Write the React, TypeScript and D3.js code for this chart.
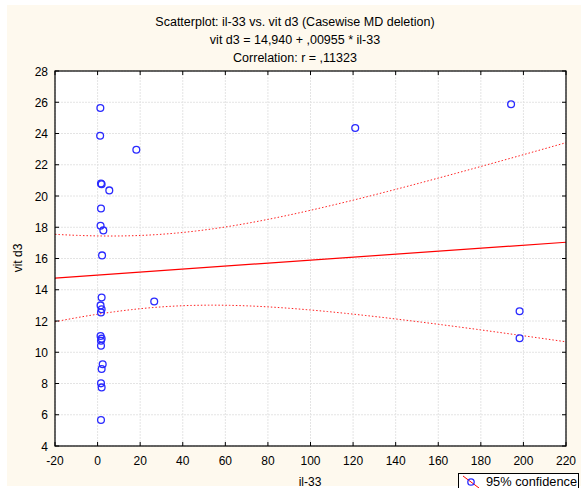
import React from "react";
import * as d3 from "d3";

const titleLines = [
  "Scatterplot: il-33 vs. vit d3 (Casewise MD deletion)",
  "vit d3 = 14,940 + ,00955 * il-33",
  "Correlation: r = ,11323",
];
const xLabel = "il-33";
const yLabel = "vit d3";
const legendLabel = "95% confidence";

const il33 = [
  1.3, 1.2, 18.2, 121, 194.2, 1.6, 1.9, 5.5, 1.6, 1.4, 2.7, 2.1,
  1.9, 1.4, 1.9, 1.6, 26.6, 198.2, 198.2, 1.4, 1.9, 1.6, 2.4, 1.9,
  1.6, 1.9, 1.6, 1.6,
];
const vitD3 = [
  25.63, 23.86, 22.96, 24.35, 25.87, 20.8, 20.75, 20.36, 19.2, 18.1, 17.8, 16.2,
  13.5, 13.0, 12.75, 12.55, 13.25, 12.62, 10.9, 11.04, 10.87, 10.74, 9.23, 8.93,
  8.01, 7.75, 5.66, 10.42,
];

const xTicks = [-20, 0, 20, 40, 60, 80, 100, 120, 140, 160, 180, 200, 220];
const yTicks = [4, 6, 8, 10, 12, 14, 16, 18, 20, 22, 24, 26, 28];

// regression statistics (from the title and the band shape)
const intercept = 14.94;
const slope = 0.00955;
const nCases = 28;
const xMean = 30;
const sxx = 155000;
const residSD = 5.98;
const tCrit = 2.056;

const W = 581;
const H = 488;
const M = { left: 55, right: 566, top: 71, bottom: 446 };
const font = "'Liberation Sans', Arial, sans-serif";

export default function App() {
  const x = d3.scaleLinear().domain([-20, 220]).range([M.left, M.right]);
  const y = d3.scaleLinear().domain([4, 28]).range([M.bottom, M.top]);

  const xs = d3.range(-20, 220.01, 2);
  const fit = (v: number) => intercept + slope * v;
  const hw = (v: number) =>
    tCrit * residSD * Math.sqrt(1 / nCases + (v - xMean) ** 2 / sxx);
  const line = d3
    .line<number[]>()
    .x((d) => x(d[0]))
    .y((d) => y(d[1]));
  const upper = line(xs.map((v) => [v, fit(v) + hw(v)]));
  const lower = line(xs.map((v) => [v, fit(v) - hw(v)]));
  const reg = line([
    [-20, fit(-20)],
    [220, fit(220)],
  ]);

  const pts = il33.map((v, i) => [v, vitD3[i]]);

  return (
    <svg
      width={W}
      height={H}
      style={{ position: "absolute", left: 0, top: 0 }}
      fontFamily={font}
    >
      <rect x={0} y={0} width={W} height={H} fill="#ffffff" />
      <rect x={7} y={5} width={W - 7} height={481} fill="#fef9ee" />
      {titleLines.map((t, i) => (
        <text
          key={i}
          x={295}
          y={26 + i * 18}
          textAnchor="middle"
          fontSize={12.5}
          fill="#000"
        >
          {t}
        </text>
      ))}
      <defs>
        <clipPath id="plotclip">
          <rect
            x={M.left}
            y={M.top}
            width={M.right - M.left}
            height={M.bottom - M.top}
          />
        </clipPath>
      </defs>
      <rect
        x={M.left}
        y={M.top}
        width={M.right - M.left}
        height={M.bottom - M.top}
        fill="#ffffff"
      />
      {/* grid */}
      {xTicks.map((t) => (
        <line
          key={"gx" + t}
          x1={x(t)}
          x2={x(t)}
          y1={M.top}
          y2={M.bottom}
          stroke="#e4e4e4"
          strokeDasharray="2,1"
        />
      ))}
      {yTicks.map((t) => (
        <line
          key={"gy" + t}
          x1={M.left}
          x2={M.right}
          y1={y(t)}
          y2={y(t)}
          stroke="#e4e4e4"
          strokeDasharray="2,1"
        />
      ))}
      <g clipPath="url(#plotclip)">
        <path d={upper || ""} fill="none" stroke="#ff2020" strokeWidth={1} strokeDasharray="1.5,2" />
        <path d={lower || ""} fill="none" stroke="#ff2020" strokeWidth={1} strokeDasharray="1.5,2" />
        <path d={reg || ""} fill="none" stroke="#ff0000" strokeWidth={1.2} />
        {pts.map((p, i) => (
          <circle
            key={i}
            cx={x(p[0])}
            cy={y(p[1])}
            r={3.4}
            fill="none"
            stroke="#2a2aff"
            strokeWidth={1.3}
          />
        ))}
      </g>
      {/* frame */}
      <rect
        x={M.left}
        y={M.top}
        width={M.right - M.left}
        height={M.bottom - M.top}
        fill="none"
        stroke="#000"
        strokeWidth={1.2}
      />
      {/* ticks */}
      {xTicks.map((t) => (
        <g key={"tx" + t}>
          <line x1={x(t)} x2={x(t)} y1={M.bottom} y2={M.bottom - 4} stroke="#000" />
          <line x1={x(t)} x2={x(t)} y1={M.top} y2={M.top + 4} stroke="#000" />
          <text
            x={x(t)}
            y={M.bottom + 19}
            textAnchor="middle"
            fontSize={12}
            fill="#000"
          >
            {t}
          </text>
        </g>
      ))}
      {yTicks.map((t) => (
        <g key={"ty" + t}>
          <line x1={M.left} x2={M.left + 4} y1={y(t)} y2={y(t)} stroke="#000" />
          <line x1={M.right} x2={M.right - 4} y1={y(t)} y2={y(t)} stroke="#000" />
          <text
            x={48}
            y={y(t) + 4.5}
            textAnchor="end"
            fontSize={12}
            fill="#000"
          >
            {t}
          </text>
        </g>
      ))}
      <text x={310} y={486} textAnchor="middle" fontSize={12} fill="#000">
        {xLabel}
      </text>
      <text
        transform={`translate(22, 258) rotate(-90)`}
        textAnchor="middle"
        fontSize={12}
        fill="#000"
      >
        {yLabel}
      </text>
      {/* legend */}
      <rect
        x={458.5}
        y={473.5}
        width={120}
        height={20}
        fill="#ffffff"
        stroke="#000"
        strokeWidth={1}
      />
      <line x1={463} y1={476} x2={479} y2={488} stroke="#ff0000" strokeWidth={1} />
      <circle cx={471} cy={482} r={3.2} fill="none" stroke="#2a2aff" strokeWidth={1.3} />
      <text x={486} y={485.5} fontSize={12.8} fill="#000">
        {legendLabel}
      </text>
    </svg>
  );
}
